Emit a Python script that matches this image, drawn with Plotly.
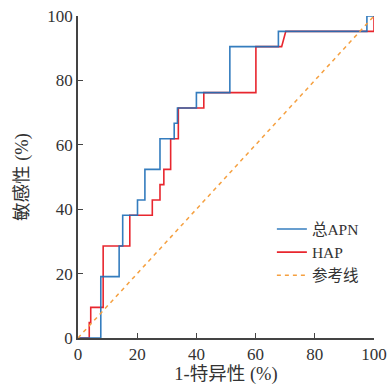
import plotly.graph_objects as go

# ROC vertices (1-specificity %, sensitivity %)
apn_fpr = [0, 7.7, 7.7, 13.9, 13.9, 15.1, 15.1, 20.1, 20.1, 22.6, 22.6, 27.7, 27.7,
           32.5, 32.5, 33.6, 33.6, 40.0, 40.0, 51.3, 51.3, 67.7, 67.7, 97.6, 97.6, 100]
apn_tpr = [0, 0, 19.05, 19.05, 28.57, 28.57, 38.1, 38.1, 42.86, 42.86, 52.38, 52.38, 61.9,
           61.9, 66.67, 66.67, 71.43, 71.43, 76.19, 76.19, 90.48, 90.48, 95.24, 95.24, 100, 100]

hap_fpr = [0, 3.8, 3.8, 4.3, 4.3, 8.5, 8.5, 17.5, 17.5, 25.1, 25.1, 27.7, 27.7, 29.0, 29.0,
           31.3, 31.3, 33.9, 33.9, 42.5, 42.5, 60.1, 60.1, 68.8, 70.2, 100, 100]
hap_tpr = [0, 0, 4.76, 4.76, 9.52, 9.52, 28.57, 28.57, 38.1, 38.1, 42.86, 42.86, 47.62, 47.62,
           52.38, 52.38, 61.9, 61.9, 71.43, 71.43, 76.19, 76.19, 90.48, 90.48, 95.24, 95.24, 100]

ref_x = [0, 100]
ref_y = [0, 100]

names = ["总APN", "HAP", "参考线"]
ticks = [0, 20, 40, 60, 80, 100]

FONT = "Liberation Serif, Noto Sans CJK SC, serif"

fig = go.Figure()
fig.add_trace(go.Scatter(x=hap_fpr, y=hap_tpr, mode="lines", name=names[1],
                         line=dict(color="#e8262e", width=1.6), cliponaxis=False,
                         legendrank=2))
fig.add_trace(go.Scatter(x=apn_fpr, y=apn_tpr, mode="lines", name=names[0],
                         line=dict(color="#1f6fb8", width=1.6), opacity=0.9,
                         cliponaxis=False, legendrank=1))
fig.add_trace(go.Scatter(x=ref_x, y=ref_y, mode="lines", name=names[2],
                         line=dict(color="#f5a040", width=1.5, dash="4px,4px"),
                         cliponaxis=False, legendrank=3))

axis_common = dict(
    range=[0, 100], tickvals=ticks, ticks="inside", ticklen=5, tickwidth=1.3,
    tickcolor="#444", showline=True, linecolor="#444", linewidth=1.5,
    showgrid=False, zeroline=False, automargin=False,
    tickfont=dict(family=FONT, size=17, color="#333"),
)

fig.update_layout(
    width=389, height=389,
    margin=dict(l=78, r=15, t=16, b=51),
    paper_bgcolor="white", plot_bgcolor="white",
    font=dict(family=FONT, color="#333"),
    xaxis=dict(**axis_common, title=dict(text="1-特异性 (%)", font=dict(family=FONT, size=18.5), standoff=4)),
    yaxis=dict(**axis_common, title=dict(text="敏感性 (%)", font=dict(family=FONT, size=18.5), standoff=14)),
    legend=dict(x=0.655, y=0.39, xanchor="left", yanchor="top",
                font=dict(family=FONT, size=15.5, color="#333"),
                bgcolor="rgba(0,0,0,0)", tracegroupgap=0, itemwidth=30),
    showlegend=True,
)

fig.write_html("out.html", config={"displayModeBar": False},
               post_script="document.body.style.margin='0';")
